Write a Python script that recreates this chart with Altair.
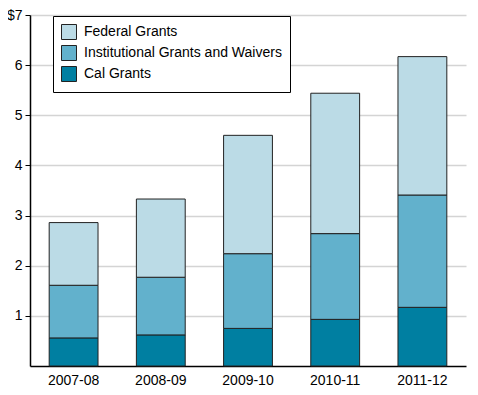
import altair as alt
import pandas as pd

years = ["2007-08", "2008-09", "2009-10", "2010-11", "2011-12"]
cal_grants = [0.56, 0.62, 0.75, 0.93, 1.17]
institutional = [1.05, 1.15, 1.49, 1.71, 2.24]
federal = [1.25, 1.56, 2.36, 2.80, 2.76]

series = ["Federal Grants", "Institutional Grants and Waivers", "Cal Grants"]
colors = ["#BBDBE6", "#62B1CC", "#007FA1"]
tick_values = [1, 2, 3, 4, 5, 6, 7]

rows = []
for i, y in enumerate(years):
    rows.append({"year": y, "type": "Cal Grants", "value": cal_grants[i], "ord": 0})
    rows.append({"year": y, "type": "Institutional Grants and Waivers", "value": institutional[i], "ord": 1})
    rows.append({"year": y, "type": "Federal Grants", "value": federal[i], "ord": 2})
df = pd.DataFrame(rows)

font = "Liberation Sans"

chart = alt.Chart(df).mark_bar(stroke="#222222", strokeWidth=1).encode(
    x=alt.X("year:N", title=None, sort=years,
            scale=alt.Scale(paddingInner=0.44, paddingOuter=0.22),
            axis=alt.Axis(labelAngle=0, ticks=False, domainColor="black", domainWidth=1.5,
                          labelFontSize=14, labelFont=font, labelColor="black", labelPadding=7, grid=False)),
    y=alt.Y("value:Q", title=None, stack="zero",
            scale=alt.Scale(domain=[0, 7], nice=False),
            axis=alt.Axis(values=tick_values,
                          labelExpr="datum.value == 7 ? '$7' : datum.label",
                          tickSize=5, tickColor="black", domainColor="black", domainWidth=1.5,
                          gridColor="#d4d4d4", gridWidth=1.5,
                          labelFontSize=14, labelFont=font, labelColor="black", labelPadding=3)),
    color=alt.Color("type:N", scale=alt.Scale(domain=series, range=colors),
                    legend=alt.Legend(title=None, orient="none", legendX=23, legendY=1,
                                      strokeColor="black", fillColor="white", padding=8,
                                      symbolType="square", symbolSize=225,
                                      symbolStrokeColor="#222222", symbolStrokeWidth=1,
                                      labelFontSize=14, labelFont=font, labelColor="black",
                                      labelLimit=400,
                                      rowPadding=1, labelOffset=7)),
    order=alt.Order("ord:Q", sort="ascending"),
).properties(
    width=436, height=351,
    autosize=alt.AutoSizeParams(type="none"),
    padding={"left": 22, "top": 7, "right": 4, "bottom": 25},
).configure_view(stroke=None)

chart.save("out.html", embed_options={"renderer": "svg", "actions": False})
